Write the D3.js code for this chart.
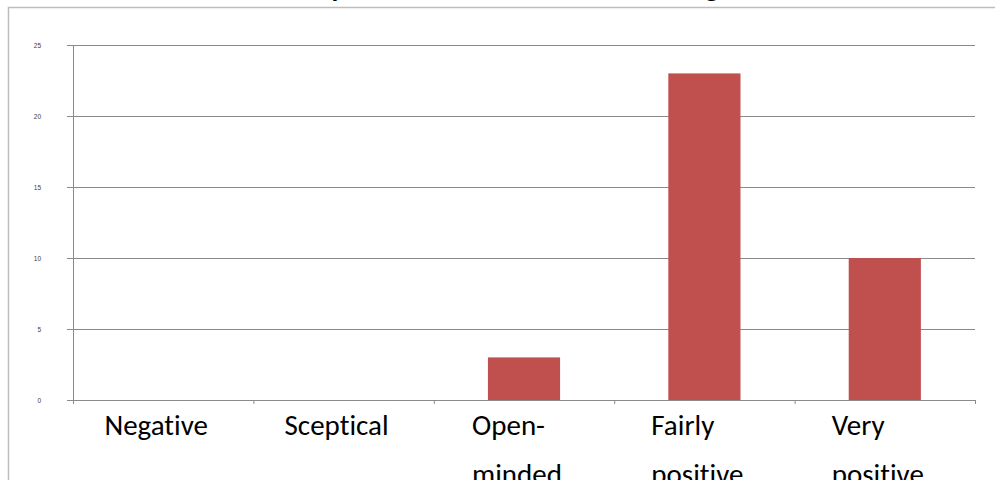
<!DOCTYPE html>
<html>
<head>
<meta charset="utf-8">
<script src="https://cdn.jsdelivr.net/npm/d3@7"></script>
<style>
  html, body { margin: 0; padding: 0; background: #fff; }
  svg { display: block; }
  text { font-variant-ligatures: none; }
</style>
</head>
<body>
<svg id="chart" width="995" height="480"></svg>
<script>
// Survey responses by attitude
const categories = ["Negative", "Sceptical", "Open-minded", "Fairly positive", "Very positive"];
const categoryLines = [["Negative"], ["Sceptical"], ["Open-", "minded"], ["Fairly", "positive"], ["Very", "positive"]];
const counts = [0, 0, 3, 23, 10];
const yTicks = [0, 5, 10, 15, 20, 25];
const title = "Survey of attitudes towards e-learning";

const W = 995, H = 480;
const plot = { left: 73, right: 975, top: 45, bottom: 400 };
const gridColor = "#8a8a8a";
const barColor = "#C0504D";
const labelFont = "Carlito, Calibri, Lato, sans-serif";

const svg = d3.select("#chart");

// outer chart frame (extends past the right and bottom edges)
svg.append("rect")
  .attr("x", 8.5).attr("y", 7.5)
  .attr("width", W + 20).attr("height", H + 20)
  .attr("fill", "none")
  .attr("stroke", "#bdbdbd")
  .attr("stroke-width", 1.5);

// title, mostly above the visible area
svg.append("text")
  .attr("x", 491).attr("y", -3)
  .attr("text-anchor", "middle")
  .attr("font-family", labelFont)
  .attr("font-size", 28.7)
  .attr("font-weight", "bold")
  .attr("fill", "#000")
  .text(title);

const x = d3.scaleBand()
  .domain(categories)
  .range([plot.left, plot.right])
  .paddingInner(0.6)
  .paddingOuter(0.3);

const y = d3.scaleLinear()
  .domain([0, 25])
  .range([plot.bottom, plot.top]);

// horizontal gridlines with left tick stubs
const yAxis = d3.axisLeft(y)
  .tickValues(yTicks)
  .tickSize(-(plot.right - plot.left))
  .tickPadding(32)
  .tickFormat(d3.format("d"));

const gy = svg.append("g")
  .attr("transform", `translate(${plot.left},0)`)
  .call(yAxis);
gy.select(".domain").remove();
gy.selectAll(".tick line")
  .attr("x1", -6)
  .attr("stroke", gridColor)
  .attr("stroke-width", 1);
gy.selectAll(".tick text")
  .attr("font-family", "Liberation Sans, Arial, sans-serif")
  .attr("font-size", 6.5)
  .attr("fill", "#404040");

// vertical axis line
svg.append("line")
  .attr("x1", plot.left + 0.5).attr("x2", plot.left + 0.5)
  .attr("y1", y(25)).attr("y2", y(0) + 4)
  .attr("stroke", gridColor);

// bars
svg.append("g").selectAll("rect")
  .data(categories.map((c, i) => ({ c, v: counts[i] })))
  .join("rect")
  .attr("x", d => x(d.c))
  .attr("width", x.bandwidth())
  .attr("y", d => y(d.v))
  .attr("height", d => y(0) - y(d.v))
  .attr("fill", barColor);

// category axis with boundary ticks
const step = x.step();
const bandStart = i => plot.left + i * step;
svg.append("line")
  .attr("x1", plot.left).attr("x2", plot.right)
  .attr("y1", y(0) + 0.5).attr("y2", y(0) + 0.5)
  .attr("stroke", gridColor);
svg.append("g").selectAll("line")
  .data(d3.range(categories.length + 1))
  .join("line")
  .attr("x1", i => bandStart(i) + 0.5).attr("x2", i => bandStart(i) + 0.5)
  .attr("y1", y(0)).attr("y2", y(0) + 4)
  .attr("stroke", gridColor);

// wrapped category labels, lines left-aligned in a block centred on the band
const labels = svg.append("g");
categories.forEach((c, i) => {
  const t = labels.append("text")
    .attr("font-family", labelFont)
    .attr("font-size", 29)
    .attr("fill", "#000");
  categoryLines[i].forEach((line, j) => {
    t.append("tspan").attr("x", 0).attr("y", 435 + j * 49).text(line);
  });
  const maxW = d3.max(t.selectAll("tspan").nodes(), n => n.getComputedTextLength());
  const cx = x(c) + x.bandwidth() / 2;
  t.selectAll("tspan").attr("x", cx - maxW / 2 - 7);
});
</script>
</body>
</html>
